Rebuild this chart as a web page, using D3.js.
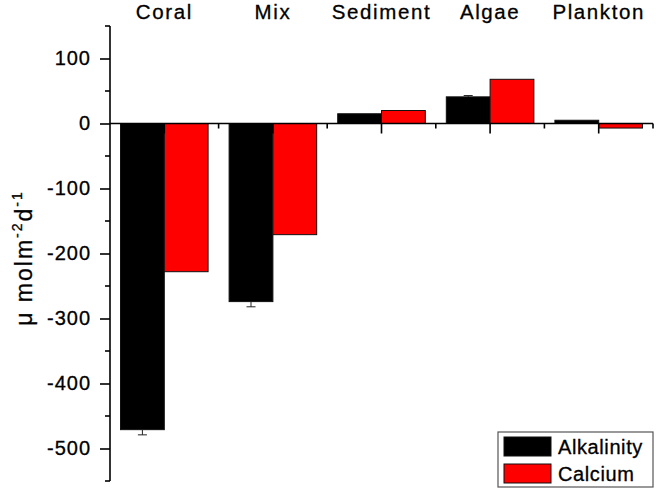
<!DOCTYPE html>
<html>
<head>
<meta charset="utf-8">
<script src="https://cdn.jsdelivr.net/npm/d3@7"></script>
<style>
  body { margin: 0; background: #fff; }
  svg text { font-family: "Liberation Sans", Arial, sans-serif; fill: #000; stroke: #000; stroke-width: 0.3px; }
</style>
</head>
<body>
<svg width="657" height="490"></svg>
<script>
const categories = ["Coral", "Mix", "Sediment", "Algae", "Plankton"];
const series = ["Alkalinity", "Calcium"];
const alkalinity = [-471, -274, 15, 41, 5];
const calcium = [-228, -171, 20, 68, -7];
const alkalinityErr = [8, 8, 0, 2, 0];
const calciumErr = [0, 0, 0, 0, 0];
const majorTicks = [-500, -400, -300, -200, -100, 0, 100];
const minorTicks = [-550, -450, -350, -250, -150, -50, 50, 150];

const colors = {Alkalinity: "#000000", Calcium: "#ff0000"};

const svg = d3.select("svg");

const x0 = d3.scaleBand().domain(categories).range([110, 653]).paddingInner(0).paddingOuter(0);
const x1 = d3.scaleBand().domain(series).range([0, x0.bandwidth()]).paddingInner(0).paddingOuter(0.24);
const y = d3.scaleLinear().domain([-550, 150]).range([481, 26]);

const rows = categories.map((c, i) => ({
  category: c,
  values: [
    {key: "Alkalinity", value: alkalinity[i], err: alkalinityErr[i]},
    {key: "Calcium", value: calcium[i], err: calciumErr[i]}
  ]
}));

// bars
const groups = svg.append("g").selectAll("g")
  .data(rows)
  .join("g")
  .attr("transform", d => `translate(${x0(d.category)},0)`);

groups.selectAll("rect")
  .data(d => d.values)
  .join("rect")
  .attr("x", d => x1(d.key))
  .attr("width", x1.bandwidth())
  .attr("y", d => y(Math.max(0, d.value)))
  .attr("height", d => Math.abs(y(d.value) - y(0)))
  .attr("fill", d => colors[d.key])
  .attr("stroke", "#111")
  .attr("stroke-width", 1);

// error bars (outward only)
const errs = groups.selectAll("g.err")
  .data(d => d.values.filter(v => v.err > 0))
  .join("g")
  .attr("class", "err")
  .attr("stroke", "#222")
  .attr("stroke-width", 1);

errs.append("line")
  .attr("x1", d => x1(d.key) + x1.bandwidth() / 2)
  .attr("x2", d => x1(d.key) + x1.bandwidth() / 2)
  .attr("y1", d => y(d.value))
  .attr("y2", d => y(d.value + Math.sign(d.value) * d.err));

errs.append("line")
  .attr("x1", d => x1(d.key) + x1.bandwidth() / 2 - 4.5)
  .attr("x2", d => x1(d.key) + x1.bandwidth() / 2 + 4.5)
  .attr("y1", d => y(d.value + Math.sign(d.value) * d.err))
  .attr("y2", d => y(d.value + Math.sign(d.value) * d.err));

// y axis
const yAxisG = svg.append("g").attr("transform", "translate(110,0)");
yAxisG.call(d3.axisLeft(y).tickValues(majorTicks).tickSize(10).tickPadding(9).tickFormat(d => String(d)));
yAxisG.select(".domain").attr("d", `M0,${y(150)}V${y(-550)}`).attr("stroke-width", 1.6);
yAxisG.selectAll(".tick line").attr("stroke-width", 1.6);
yAxisG.selectAll(".tick text")
  .attr("font-size", 20)
  .attr("letter-spacing", 1);

yAxisG.selectAll(".minor")
  .data(minorTicks)
  .join("line")
  .attr("class", "minor")
  .attr("x1", -5).attr("x2", 0)
  .attr("y1", d => y(d)).attr("y2", d => y(d))
  .attr("stroke", "#000").attr("stroke-width", 1.6);

// x axis at zero
const xAxisG = svg.append("g");
xAxisG.append("line")
  .attr("x1", 110).attr("x2", 653)
  .attr("y1", y(0)).attr("y2", y(0))
  .attr("stroke", "#000").attr("stroke-width", 1.6);

xAxisG.selectAll(".xmajor")
  .data(categories)
  .join("line")
  .attr("class", "xmajor")
  .attr("x1", d => x0(d) + x0.bandwidth() / 2)
  .attr("x2", d => x0(d) + x0.bandwidth() / 2)
  .attr("y1", y(0)).attr("y2", y(0) + 10)
  .attr("stroke", "#000").attr("stroke-width", 1.6);

xAxisG.selectAll(".xminor")
  .data(categories)
  .join("line")
  .attr("class", "xminor")
  .attr("x1", d => x0(d) + x0.bandwidth())
  .attr("x2", d => x0(d) + x0.bandwidth())
  .attr("y1", y(0)).attr("y2", y(0) + 5)
  .attr("stroke", "#000").attr("stroke-width", 1.6);

// category labels on top
svg.append("g").selectAll("text")
  .data(categories)
  .join("text")
  .attr("x", d => x0(d) + x0.bandwidth() / 2)
  .attr("y", 19)
  .attr("text-anchor", "middle")
  .attr("font-size", 20.5)
  .attr("letter-spacing", 1.6)
  .text(d => d);

// y axis label
const yLabel = svg.append("text")
  .attr("transform", "rotate(-90)")
  .attr("x", -258)
  .attr("y", 32)
  .attr("text-anchor", "middle")
  .attr("font-size", 23)
  .attr("letter-spacing", 2);
yLabel.append("tspan").text("\u03bc molm");
yLabel.append("tspan").attr("font-size", 14).attr("dy", -10).text("-2");
yLabel.append("tspan").attr("dy", 10).text("d");
yLabel.append("tspan").attr("font-size", 14).attr("dy", -10).text("-1");

// legend
const legend = svg.append("g").attr("transform", "translate(498,432)");
legend.append("rect")
  .attr("width", 155).attr("height", 55)
  .attr("fill", "#fff").attr("stroke", "#555").attr("stroke-width", 1.2);

const items = legend.selectAll("g.item")
  .data(series)
  .join("g")
  .attr("class", "item")
  .attr("transform", (d, i) => `translate(6,${5 + i * 27})`);

items.append("rect")
  .attr("width", 47).attr("height", 19)
  .attr("fill", d => colors[d])
  .attr("stroke", "#111").attr("stroke-width", 1);

items.append("text")
  .attr("x", 54).attr("y", 17)
  .attr("font-size", 20)
  .attr("letter-spacing", 0.6)
  .text(d => d);
</script>
</body>
</html>
